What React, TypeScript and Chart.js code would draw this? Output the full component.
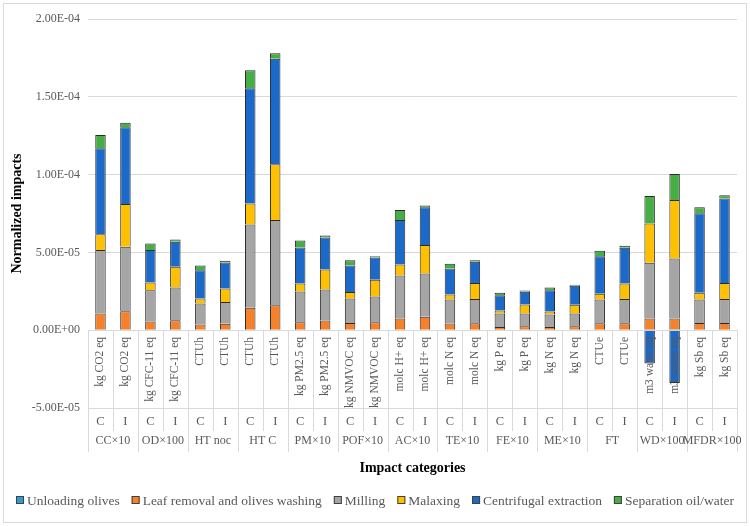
import React, { useEffect, useRef } from "react";
import { Chart, registerables } from "chart.js";

Chart.register(...registerables);

const FONT = "'Liberation Serif', 'Times New Roman', serif";

const groups = ["CC×10", "OD×100", "HT noc", "HT C", "PM×10", "POF×10", "AC×10", "TE×10", "FE×10", "ME×10", "FT", "WD×100", "MFDR×100"];
const scenarios = ["C", "I", "C", "I", "C", "I", "C", "I", "C", "I", "C", "I", "C", "I", "C", "I", "C", "I", "C", "I", "C", "I", "C", "I", "C", "I"];
const units = [
  "kg CO2 eq", "kg CO2 eq", "kg CFC-11 eq", "kg CFC-11 eq", "CTUh", "CTUh", "CTUh", "CTUh",
  "kg PM2.5 eq", "kg PM2.5 eq", "kg NMVOC eq", "kg NMVOC eq", "molc H+ eq", "molc H+ eq",
  "molc N eq", "molc N eq", "kg P eq", "kg P eq", "kg N eq", "kg N eq", "CTUe", "CTUe",
  "m3 water eq", "m3 water eq", "kg Sb eq", "kg Sb eq",
];

const seriesNames = ["Unloading olives", "Leaf removal and olives washing", "Milling", "Malaxing", "Centrifugal extraction", "Separation oil/water"];
const seriesColors = ["#2E9BD6", "#F5822A", "#A5A5A5", "#FFC000", "#1B6AC9", "#47AD45"];

const unloadingOlives = [0, 0, 0, 0, 0, 0, 0, 0, 0, 0, 0, 0, 0, 0, 0, 0, 0, 0, 0, 0, 0, 0, 0, 0, 0, 0];
const leafRemoval = [1.07e-5, 1.22e-5, 0.56e-5, 0.64e-5, 0.37e-5, 0.41e-5, 1.44e-5, 1.61e-5, 0.51e-5, 0.62e-5, 0.47e-5, 0.51e-5, 0.75e-5, 0.86e-5, 0.43e-5, 0.45e-5, 0.21e-5, 0.26e-5, 0.21e-5, 0.26e-5, 0.45e-5, 0.45e-5, 0.75e-5, 0.75e-5, 0.47e-5, 0.47e-5];
const milling = [4.08e-5, 4.14e-5, 2.01e-5, 2.11e-5, 1.35e-5, 1.41e-5, 5.36e-5, 5.47e-5, 1.98e-5, 2.0e-5, 1.57e-5, 1.66e-5, 2.77e-5, 2.79e-5, 1.54e-5, 1.55e-5, 0.86e-5, 0.81e-5, 0.8e-5, 0.81e-5, 1.52e-5, 1.56e-5, 3.58e-5, 3.86e-5, 1.5e-5, 1.54e-5];
const malaxing = [1.01e-5, 2.75e-5, 0.5e-5, 1.32e-5, 0.32e-5, 0.86e-5, 1.35e-5, 3.58e-5, 0.51e-5, 1.28e-5, 0.41e-5, 1.07e-5, 0.71e-5, 1.82e-5, 0.33e-5, 1.04e-5, 0.2e-5, 0.58e-5, 0.19e-5, 0.56e-5, 0.37e-5, 0.99e-5, 2.53e-5, 3.76e-5, 0.43e-5, 1.03e-5];
const centrifugal = [5.53e-5, 4.93e-5, 2.08e-5, 1.61e-5, 1.82e-5, 1.67e-5, 7.4e-5, 6.78e-5, 2.32e-5, 2.06e-5, 1.71e-5, 1.44e-5, 2.85e-5, 2.43e-5, 1.67e-5, 1.36e-5, 0.98e-5, 0.82e-5, 1.37e-5, 1.22e-5, 2.42e-5, 2.3e-5, -2.14e-5, -3.39e-5, 5.11e-5, 5.43e-5];
const separation = [0.86e-5, 0.3e-5, 0.43e-5, 0.15e-5, 0.3e-5, 0.11e-5, 1.16e-5, 0.36e-5, 0.45e-5, 0.13e-5, 0.34e-5, 0.08e-5, 0.64e-5, 0.12e-5, 0.3e-5, 0.1e-5, 0.15e-5, 0.08e-5, 0.18e-5, 0.07e-5, 0.34e-5, 0.13e-5, 1.76e-5, 1.67e-5, 0.39e-5, 0.2e-5];

const seriesData = [unloadingOlives, leafRemoval, milling, malaxing, centrifugal, separation];

const yMin = -5e-5;
const yMax = 2e-4;
const yStep = 5e-5;

const yTitle = "Normalized impacts";
const xTitle = "Impact categories";

function fmtSci(v: number): string {
  if (Math.abs(v) < 1e-12) return "0.00E+00";
  const [m, e] = v.toExponential(2).split("e");
  const n = parseInt(e, 10);
  return m + "E" + (n < 0 ? "-" : "+") + String(Math.abs(n)).padStart(2, "0");
}

const framePlugin = {
  id: "frame",
  beforeDraw(chart: any) {
    const { ctx, width, height } = chart;
    ctx.save();
    ctx.fillStyle = "#ffffff";
    ctx.fillRect(0, 0, width, height);
    ctx.strokeStyle = "#D9D9D9";
    ctx.lineWidth = 1;
    ctx.strokeRect(3.5, 3.5, width - 7, height - 7);
    ctx.restore();
  },
};

const tablePlugin = {
  id: "catTable",
  afterDatasetsDraw(chart: any) {
    const { ctx, chartArea, scales } = chart;
    const xs = scales.x;
    const ys = scales.y;
    const y0 = Math.round(ys.getPixelForValue(0));
    const yBot = chartArea.bottom;
    const n = units.length;
    const w = chartArea.width / n;
    const ciBottom = yBot + 23;
    const tableBottom = yBot + 44;
    ctx.save();
    ctx.strokeStyle = "#D9D9D9";
    ctx.lineWidth = 1;
    for (let i = 0; i <= n; i++) {
      const xx = Math.round(chartArea.left + i * w) + 0.5;
      ctx.beginPath();
      ctx.moveTo(xx, y0);
      ctx.lineTo(xx, i % 2 === 0 ? tableBottom : ciBottom);
      ctx.stroke();
    }
    ctx.fillStyle = "#595959";
    ctx.font = "11.5px " + FONT;
    for (let i = 0; i < n; i++) {
      const cx = xs.getPixelForValue(i);
      ctx.save();
      ctx.translate(cx, y0 + 7);
      ctx.rotate(-Math.PI / 2);
      ctx.textAlign = "right";
      ctx.textBaseline = "middle";
      ctx.fillText(units[i], 0, 0);
      ctx.restore();
    }
    ctx.font = "12.5px " + FONT;
    ctx.textAlign = "center";
    ctx.textBaseline = "middle";
    for (let i = 0; i < n; i++) {
      ctx.fillText(scenarios[i], xs.getPixelForValue(i), yBot + 14);
    }
    ctx.font = "12px " + FONT;
    for (let g = 0; g < groups.length; g++) {
      const cx = chartArea.left + (2 * g + 1) * w;
      ctx.fillText(groups[g], cx, yBot + 33);
    }
    ctx.fillStyle = "#000000";
    ctx.font = "bold 14px " + FONT;
    ctx.fillText(xTitle, (chartArea.left + chartArea.right) / 2, yBot + 60);

    // legend
    ctx.font = "13.5px " + FONT;
    const box = 8;
    const gapBox = 3;
    const gapItem = 12;
    const widths = seriesNames.map((s) => ctx.measureText(s).width);
    const total = widths.reduce((a, b) => a + b, 0) + seriesNames.length * (box + gapBox) + (seriesNames.length - 1) * gapItem;
    let lx = chart.width / 2 - total / 2;
    const ly = 500;
    ctx.textAlign = "left";
    ctx.textBaseline = "middle";
    seriesNames.forEach((s, k) => {
      ctx.fillStyle = seriesColors[k];
      ctx.fillRect(lx, ly - box / 2, box, box);
      ctx.strokeStyle = "#404040";
      ctx.lineWidth = 1;
      ctx.strokeRect(lx + 0.5, ly - box / 2 + 0.5, box - 1, box - 1);
      ctx.fillStyle = "#595959";
      ctx.fillText(s, lx + box + gapBox, ly + 1);
      lx += box + gapBox + widths[k] + gapItem;
    });
    ctx.restore();
  },
};

export default function App() {
  const ref = useRef<HTMLCanvasElement | null>(null);
  useEffect(() => {
    if (!ref.current) return;
    const chart = new Chart(ref.current, {
      type: "bar",
      data: {
        labels: units,
        datasets: seriesNames.map((name, k) => ({
          label: name,
          data: seriesData[k],
          backgroundColor: seriesColors[k],
          borderColor: "#2b2b2b",
          borderWidth: 1,
          categoryPercentage: 1,
          barPercentage: 0.42,
        })),
      },
      options: {
        animation: false,
        responsive: false,
        devicePixelRatio: 1,
        layout: { padding: { left: 8, right: 13, top: 19, bottom: 9 } },
        plugins: {
          legend: { display: false },
          tooltip: { enabled: false },
        },
        scales: {
          x: {
            stacked: true,
            ticks: { display: false },
            grid: { display: false },
            border: { display: false },
            afterFit: (s: any) => {
              s.height = 109;
            },
          },
          y: {
            stacked: true,
            min: yMin,
            max: yMax,
            ticks: {
              stepSize: yStep,
              color: "#595959",
              font: { family: FONT, size: 12 },
              padding: 8,
              callback: (v: any) => fmtSci(Number(v)),
            },
            grid: { color: "#D9D9D9", drawTicks: false },
            border: { display: false },
            title: {
              display: true,
              text: yTitle,
              color: "#000000",
              font: { family: FONT, size: 14, weight: "bold" },
              padding: { top: 1, bottom: 0 },
            },
            afterFit: (s: any) => {
              s.width = 80;
            },
          },
        },
      },
      plugins: [framePlugin, tablePlugin],
    });
    return () => chart.destroy();
  }, []);
  return (
    <div style={{ position: "absolute", left: 0, top: 0, width: 750, height: 526 }}>
      <canvas ref={ref} width={750} height={526} style={{ display: "block" }} />
    </div>
  );
}
